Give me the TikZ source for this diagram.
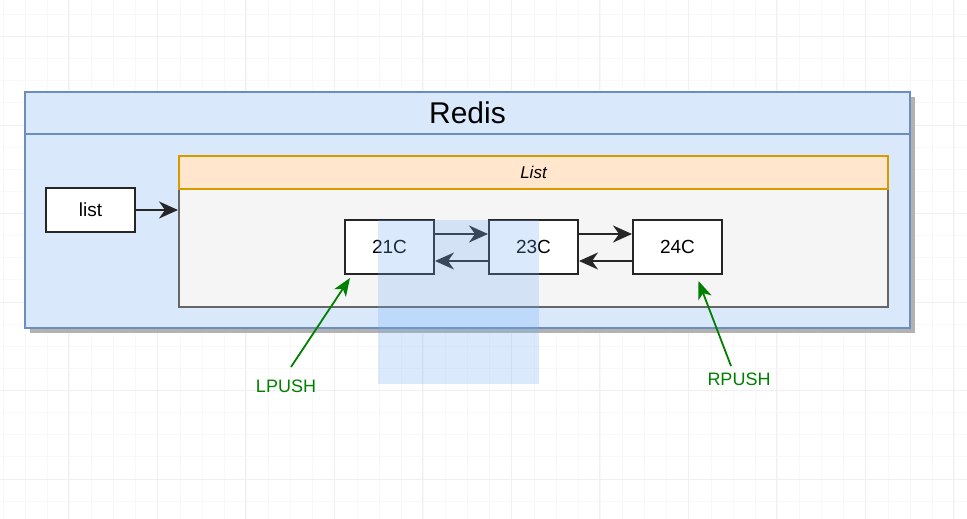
\documentclass[tikz,border=0pt]{standalone}
\usepackage{fontspec}
\setmainfont{Liberation Sans}
\usetikzlibrary{arrows.meta,positioning,shadows}
\definecolor{redisfill}{RGB}{218,232,252}
\definecolor{redisline}{RGB}{108,142,191}
\definecolor{listhead}{RGB}{255,230,204}
\definecolor{listline}{RGB}{215,155,0}
\definecolor{listbody}{RGB}{245,245,245}
\definecolor{listedge}{RGB}{102,102,102}
\definecolor{pushgreen}{RGB}{0,128,0}
\definecolor{selblue}{RGB}{110,175,245}
\definecolor{gridminor}{RGB}{248,248,248}
\definecolor{gridmajor}{RGB}{240,240,240}

\tikzset{
  cell/.style={draw=black!85, fill=white, line width=2pt, minimum width=89pt,
    minimum height=54pt, inner sep=0pt, font=\fontsize{19}{22}\selectfont},
  link/.style={-{Stealth[length=19pt,width=17pt,inset=6pt]}, line width=1.6pt, black!85},
  push/.style={pushgreen, -{Stealth[length=18pt,width=14pt,inset=5pt]}, line width=1.8pt},
  pushlabel/.style={pushgreen, font=\fontsize{18}{21}\selectfont},
}

\begin{document}
\begin{tikzpicture}[x=1pt, y=-1pt]
\useasboundingbox (0,0) rectangle (967,519);
\fill[white] (0,0) rectangle (967,519);

% Background grid
\foreach \i in {0,...,44} {
    \draw[gridminor, line width=1pt] ({3+22.125*\i},0) -- ++(0,519);
}
\foreach \i in {0,...,23} {
    \draw[gridminor, line width=1pt] (0,{14.4+22.125*\i}) -- ++(967,0);
}
\foreach \i in {0,...,10} {
    \draw[gridmajor, line width=1pt] ({68.5+88.5*\i},0) -- ++(0,519);
}
\foreach \i in {0,...,5} {
    \draw[gridmajor, line width=1pt] (0,{36.5+88.5*\i}) -- ++(967,0);
}

% Redis container
\node[draw=redisline, fill=redisfill, line width=2pt, minimum width=885pt, minimum height=236pt,
  drop shadow={shadow xshift=5pt, shadow yshift=-5pt, fill=black!30, opacity=1}]
  (redis) at (467.5,210) {};
\node[draw=redisline, fill=redisfill, line width=2pt, minimum width=885pt, minimum height=42pt,
  anchor=north, font=\fontsize{30}{34}\selectfont] (redistitle) at (redis.north) {Redis};

% List container
\node[draw=listedge, fill=listbody, line width=2pt, minimum width=709pt, minimum height=151pt]
  (listbox) at (533.5,231.5) {};
\node[draw=listline, fill=listhead, line width=2pt, minimum width=709pt, minimum height=33pt,
  anchor=north, font=\fontsize{17}{20}\selectfont\itshape] (listtitle) at (listbox.north) {List};

% Key
\node[cell, minimum height=44pt] (key) at (90.5,210) {list};
\draw[link] (key.east) -- (key.east -| listbox.west);

% Elements
\node[cell] (c21) at (389.5,247) {21C};
\node[cell] (c23) at (533.5,247) {23C};
\node[cell] (c24) at (677.5,247) {24C};

\foreach \a/\b in {c21/c23, c23/c24} {
    \draw[link] ([yshift=13pt]\a.east) -- ([yshift=13pt]\b.west);
    \draw[link] ([yshift=-14pt]\b.west) -- ([yshift=-14pt]\a.east);
}

% Push labels
\node[pushlabel] (lpush) at (286,386) {LPUSH};
\node[pushlabel] (rpush) at (739,379) {RPUSH};
\coordinate (lfoot) at (291,367);
\coordinate (rfoot) at (731,366);
\draw[push] (lfoot) -- ([xshift=6pt,yshift=-3pt]c21.south west);
\draw[push] (rfoot) -- ([xshift=21pt,yshift=-6pt]c24.south);

% Selection
\fill[selblue, opacity=0.25] (378,220) rectangle (539,384);
\end{tikzpicture}
\end{document}
